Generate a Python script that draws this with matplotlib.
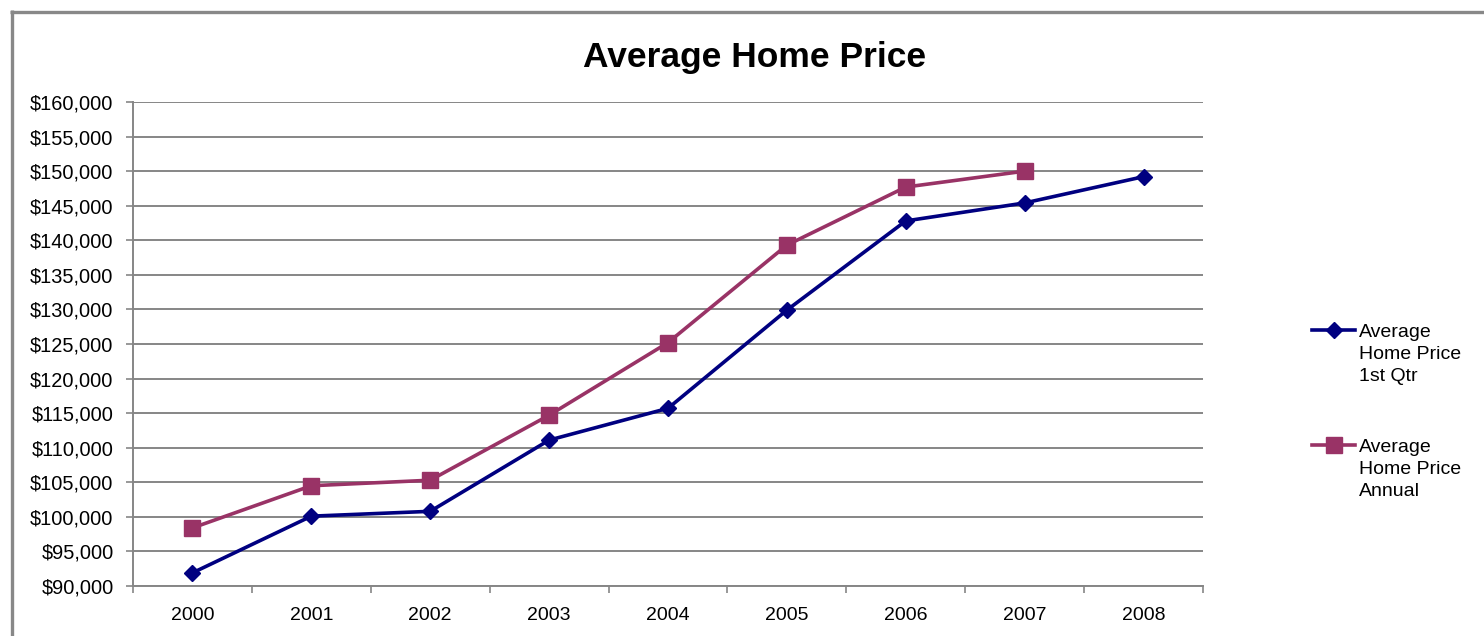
import matplotlib.pyplot as plt
from matplotlib.lines import Line2D
from matplotlib.ticker import FuncFormatter, MultipleLocator, FixedLocator

plt.rcParams['font.family'] = ['Liberation Sans', 'DejaVu Sans']

years = ['2000', '2001', '2002', '2003', '2004', '2005', '2006', '2007', '2008']
qtr1 = [91900, 100100, 100800, 111100, 115700, 129900, 142800, 145400, 149200]
annual = [98400, 104500, 105300, 114700, 125200, 139300, 147700, 150000]
labels = ['Average\nHome Price\n1st Qtr', 'Average\nHome Price\nAnnual']

W, H = 1484, 636
fig = plt.figure(figsize=(W / 100, H / 100), dpi=100)
ax = fig.add_axes([133 / W, 1 - 586 / H, (1203 - 133) / W, (586 - 102) / H])

grey = '#868686'
blue = '#000080'
plum = '#993366'

x1 = list(range(len(qtr1)))
x2 = list(range(len(annual)))
ax.plot(x1, qtr1, color=blue, lw=2.6, marker='D', ms=8, zorder=4)
ax.plot(x2, annual, color=plum, lw=2.6, marker='s', ms=11, zorder=3)

ax.set_xlim(-0.5, len(years) - 0.5)
ax.set_ylim(90000, 160000)
ax.yaxis.set_major_locator(MultipleLocator(5000))
ax.yaxis.set_major_formatter(FuncFormatter(lambda v, p: '${:,.0f}'.format(v)))
ax.grid(axis='y', color=grey, lw=1.4)
ax.set_axisbelow(True)

ax.set_xticks(range(len(years)))
ax.set_xticklabels(years)
ax.xaxis.set_minor_locator(FixedLocator([i - 0.5 for i in range(len(years) + 1)]))
ax.tick_params(axis='x', which='major', length=0, pad=15, labelsize=14)
ax.tick_params(axis='x', which='minor', length=5, width=1.2, color=grey, direction='out')
ax.tick_params(axis='y', length=5, width=1.2, color=grey, direction='out', pad=9, labelsize=14.4)

for s in ['top', 'right']:
    ax.spines[s].set_visible(False)
for s in ['left', 'bottom']:
    ax.spines[s].set_color(grey)
    ax.spines[s].set_linewidth(1.4)

fig.text(755 / W, 1 - 57 / H, 'Average Home Price', ha='center', va='center',
         fontsize=25.5, fontweight='bold')

# legend drawn by hand so the marker sits beside the first line of text
for i, (lab, col, mk, ms) in enumerate([(labels[0], blue, 'D', 8), (labels[1], plum, 's', 11)]):
    yy = 1 - (330 + 115 * i) / H
    fig.add_artist(Line2D([1312 / W, 1355 / W], [yy, yy], color=col, lw=2.6,
                          transform=fig.transFigure))
    fig.add_artist(Line2D([1333.5 / W], [yy], color=col, marker=mk, ms=ms,
                          transform=fig.transFigure))
    fig.text(1359 / W, yy + 6 / H, lab, ha='left', va='top', fontsize=14,
             linespacing=1.37)

# chart frame (cropped on right and bottom)
frame = dict(color='#888888', lw=2.4, solid_capstyle='butt', transform=fig.transFigure)
fig.add_artist(Line2D([10 / W, 1], [1 - 11.5 / H, 1 - 11.5 / H], **frame))
fig.add_artist(Line2D([11.5 / W, 11.5 / W], [0, 1 - 10 / H], **frame))

fig.savefig('out.png', dpi=100)
